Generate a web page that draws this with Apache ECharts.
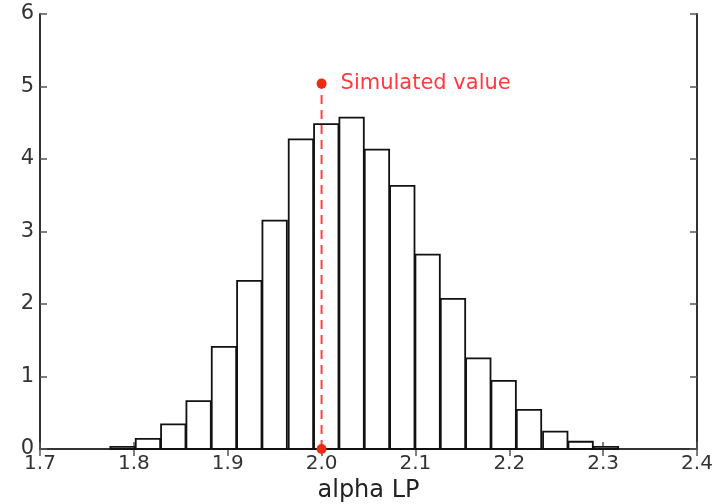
<!DOCTYPE html>
<html>
<head>
<meta charset="utf-8">
<script src="https://cdn.jsdelivr.net/npm/echarts@6/dist/echarts.min.js"></script>
<style>
    html, body { margin: 0; padding: 0; background: #fff; }
    #chart { width: 723px; height: 504px; }
</style>
</head>
<body>
<div id="chart"></div>
<script>
    // histogram bins (centres) and their heights
    const binCenters = [1.788, 1.815, 1.842, 1.869, 1.896, 1.923, 1.950, 1.978, 2.005, 2.032,
                        2.059, 2.086, 2.113, 2.140, 2.167, 2.194, 2.221, 2.249, 2.276, 2.303];
    const binHeights = [0.03, 0.14, 0.34, 0.66, 1.41, 2.32, 3.15, 4.27, 4.48, 4.57,
                        4.13, 3.63, 2.68, 2.07, 1.25, 0.94, 0.54, 0.24, 0.10, 0.03];
    const binWidth = 0.026;
    // simulated value marker
    const simX = 2.0;
    const simTop = 5.04;
    const xTicks = [1.7, 1.8, 1.9, 2.0, 2.1, 2.2, 2.3, 2.4];
    const yTicks = [0, 1, 2, 3, 4, 5, 6];

    let myChart = echarts.init(document.getElementById('chart'));

    const axisCommon = {
        axisLine: { show: true, lineStyle: { color: '#333', width: 2 } },
        axisTick: { show: true, inside: true, length: 7, lineStyle: { color: '#555', width: 1.5 } },
        splitLine: { show: false }
    };

    let option = {
        animation: false,
        grid: { left: 40, right: 26, top: 14, bottom: 55, outerBoundsMode: 'none', containLabel: false },
        xAxis: [
            Object.assign({
                type: 'value', min: xTicks[0], max: xTicks[xTicks.length - 1], interval: 0.1,
                position: 'bottom',
                name: 'alpha LP', nameLocation: 'middle', nameGap: 29,
                nameTextStyle: { fontFamily: 'DejaVu Sans', fontSize: 24, color: '#222' },
                axisLabel: {
                    fontFamily: 'DejaVu Sans', fontSize: 20, color: '#333', margin: 5,
                    formatter: v => v.toFixed(1)
                }
            }, axisCommon),
            Object.assign({
                type: 'value', min: xTicks[0], max: xTicks[xTicks.length - 1], interval: 0.1,
                position: 'top', axisLabel: { show: false }
            }, axisCommon)
        ],
        yAxis: [
            Object.assign({
                type: 'value', min: yTicks[0], max: yTicks[yTicks.length - 1], interval: 1,
                position: 'left',
                axisLabel: { fontFamily: 'DejaVu Sans', fontSize: 21, color: '#333', margin: 6 }
            }, axisCommon),
            Object.assign({
                type: 'value', min: yTicks[0], max: yTicks[yTicks.length - 1], interval: 1,
                position: 'right', axisLabel: { show: false }
            }, axisCommon)
        ],
        series: [
            {
                type: 'custom',
                data: binCenters.map((c, i) => [c, binHeights[i]]),
                renderItem: function (params, api) {
                    const c = api.value(0);
                    const h = api.value(1);
                    const p0 = api.coord([c - binWidth / 2, h]);
                    const p1 = api.coord([c + binWidth / 2, 0]);
                    return {
                        type: 'rect',
                        shape: { x: p0[0], y: p0[1], width: p1[0] - p0[0], height: p1[1] - p0[1] },
                        style: { fill: '#fff', stroke: '#111', lineWidth: 1.8 }
                    };
                }
            },
            {
                type: 'line',
                data: [[simX, 0], [simX, simTop]],
                symbol: 'circle',
                symbolSize: 10,
                z: 5,
                lineStyle: { color: '#ff4040', width: 2, type: [9, 6] },
                itemStyle: { color: '#ee2a10' },
                label: {
                    show: true,
                    position: 'right',
                    distance: 14,
                    formatter: p => p.dataIndex === 1 ? 'Simulated value' : '',
                    fontFamily: 'DejaVu Sans', fontSize: 21, color: '#ff3b3b'
                }
            }
        ]
    };
    myChart.setOption(option);
</script>
</body>
</html>
